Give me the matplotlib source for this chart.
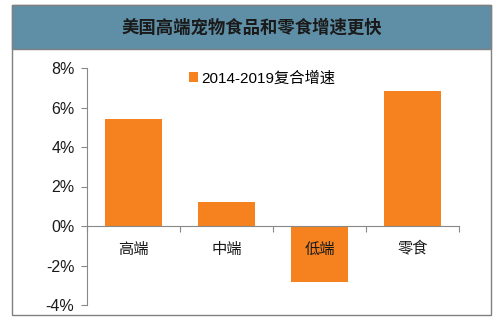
import matplotlib
matplotlib.use('Agg')
import matplotlib.pyplot as plt
from matplotlib.patches import Rectangle

plt.rcParams['font.family'] = ['Liberation Sans', 'Noto Sans CJK SC', 'DejaVu Sans']

# data
categories = ['高端', '中端', '低端', '零食']
growth = [5.42, 1.22, -2.84, 6.84]   # %
series_name = '2014-2019复合增速'
title = '美国高端宠物食品和零食增速更快'
yticks = [-4, -2, 0, 2, 4, 6, 8]

orange = '#F5821F'
band = '#5E8FA6'
cjk = ['Noto Sans CJK SC', 'DejaVu Sans']

fig = plt.figure(figsize=(5.02, 3.24), dpi=100)

# outer frame and title band (behind the axes)
fig.patches.append(Rectangle((12/502, 1-315/324), 479/502, 310/324, transform=fig.transFigure,
                             facecolor='white', edgecolor='#808080', lw=1.0, zorder=-2))
fig.patches.append(Rectangle((12/502, 1-49/324), 479/502, 44/324, transform=fig.transFigure,
                             facecolor=band, edgecolor='#808080', lw=1.0, zorder=-1))
fig.text(252/502, 1-28/324, title, ha='center', va='center', fontsize=12.5,
         fontweight='bold', color='#1a1a1a', family=cjk)

ax = fig.add_axes([87/502, 1-305/324, 372/502, 237/324])
ax.set_facecolor('none')
x = range(len(categories))
ax.bar(x, growth, width=0.62, color=orange, label=series_name, zorder=2)

ax.set_xlim(-0.5, len(categories) - 0.5)
ax.set_ylim(-4, 8)
ax.set_yticks(yticks)
ax.set_yticklabels([f'{v}%' for v in yticks], fontsize=11.5, color='#1a1a1a')

ax.spines['top'].set_visible(False)
ax.spines['right'].set_visible(False)
ax.spines['bottom'].set_position(('data', 0))
ax.spines['left'].set_color('#888888')
ax.spines['bottom'].set_color('#888888')

# category boundary ticks on the zero line, labels placed below
ax.set_xticks([-0.5, 0.5, 1.5, 2.5, 3.5])
ax.set_xticklabels([])
ax.tick_params(axis='x', length=4, color='#888888', direction='out')
ax.tick_params(axis='y', length=4, color='#888888', direction='out', pad=5)
for i, c in enumerate(categories):
    ax.text(i, -0.75, c, ha='center', va='top', fontsize=11, color='#1a1a1a', zorder=3,
            family=cjk)

ax.legend(loc='upper center', bbox_to_anchor=(0.47, 1.045), frameon=False, fontsize=11,
          handlelength=0.6, handleheight=0.6, handletextpad=0.2)

plt.savefig('out.png', dpi=100)
